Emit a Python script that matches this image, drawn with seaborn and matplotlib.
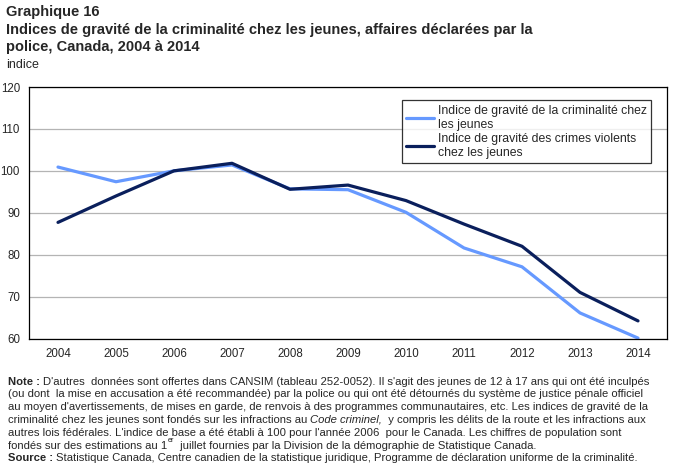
import numpy as np
import pandas as pd
import seaborn as sns
import matplotlib.pyplot as plt

years = ["2004", "2005", "2006", "2007", "2008", "2009", "2010", "2011", "2012", "2013", "2014"]
ygc_total = [100.9, 97.4, 100.0, 101.4, 95.7, 95.5, 90.1, 81.6, 77.1, 66.1, 60.1]
ygc_violent = [87.7, 94.0, 100.0, 101.8, 95.6, 96.6, 92.9, 87.3, 82.0, 71.0, 64.2]
series_names = ["Indice de gravité de la criminalité chez\nles jeunes",
                "Indice de gravité des crimes violents\nchez les jeunes"]
colors = ["#6699FF", "#0A1F5C"]

df = pd.DataFrame({
    "annee": years * 2,
    "indice": ygc_total + ygc_violent,
    "serie": [series_names[0]] * len(years) + [series_names[1]] * len(years),
})

sns.set_style("white")
plt.rcParams["font.family"] = ["Liberation Sans", "DejaVu Sans"]

fig = plt.figure(figsize=(6.75, 4.73), dpi=100)
ax = fig.add_axes([29 / 675, 1 - 338.5 / 473, 638 / 675, 251.5 / 473])

sns.lineplot(data=df, x="annee", y="indice", hue="serie", palette=colors,
             linewidth=2.3, ax=ax, sort=False)

ax.set_xlim(-0.5, len(years) - 0.5)
ax.set_ylim(60, 120)
ax.set_yticks(range(60, 121, 10))
ax.yaxis.grid(True, color="#B4B4B4", linewidth=0.9)
ax.set_axisbelow(True)
ax.set_xlabel("")
ax.set_ylabel("")

# ticks between categories
ax.set_xticks(np.arange(len(years)))
ax.set_xticklabels(years)
ax.set_xticks(np.arange(0.5, len(years) - 0.5), minor=True)
ax.tick_params(axis="x", which="major", length=0, labelsize=8.3, pad=7)
ax.tick_params(axis="x", which="minor", length=3.6, width=0.8, direction="in", color="black")
ax.tick_params(axis="y", length=0, labelsize=8.3, pad=6.5)

for side in ["left", "right", "bottom", "top"]:
    ax.spines[side].set_color("black")
    ax.spines[side].set_linewidth(0.9)

leg = ax.legend(loc="upper left", bbox_to_anchor=(402 / 675, 1 - 100.5 / 473),
                bbox_transform=fig.transFigure,
                frameon=True, fancybox=False, fontsize=8.8, handlelength=2.3,
                handletextpad=0.3, borderpad=0.35, labelspacing=0.2,
                borderaxespad=0)
leg.get_frame().set_edgecolor("black")
leg.get_frame().set_linewidth(0.9)
for line in leg.get_lines():
    line.set_linewidth(2.3)

# titles
fig.text(6 / 675, 1 - 12 / 473, "Graphique 16", fontsize=10.5, fontweight="bold", va="center")
fig.text(6 / 675, 1 - 30 / 473,
         "Indices de gravité de la criminalité chez les jeunes, affaires déclarées par la",
         fontsize=10.5, fontweight="bold", va="center")
fig.text(6 / 675, 1 - 47 / 473, "police, Canada, 2004 à 2014",
         fontsize=10.5, fontweight="bold", va="center")
fig.text(6 / 675, 1 - 65 / 473, "indice", fontsize=9, va="center")

# note
fs = 8.1
x0 = 8 / 675
y_start = 1 - 381.5 / 473
dy = 12.8 / 473

t = fig.text(x0, y_start, "Note : ", fontsize=fs, fontweight="bold", va="center")
ax.annotate("D'autres  données sont offertes dans CANSIM (tableau 252-0052). Il s'agit des jeunes de 12 à 17 ans qui ont été inculpés",
            xy=(1, 0.5), xycoords=t, va="center", fontsize=fs, annotation_clip=False)

plain_lines = {
    1: "(ou dont  la mise en accusation a été recommandée) par la police ou qui ont été détournés du système de justice pénale officiel",
    2: "au moyen d'avertissements, de mises en garde, de renvois à des programmes communautaires, etc. Les indices de gravité de la",
    4: "autres lois fédérales. L'indice de base a été établi à 100 pour l'année 2006  pour le Canada. Les chiffres de population sont",
}
for i, txt in plain_lines.items():
    fig.text(x0, y_start - i * dy, txt, fontsize=fs, va="center")

t4 = fig.text(x0, y_start - 3 * dy, "criminalité chez les jeunes sont fondés sur les infractions au ",
              fontsize=fs, va="center")
t4b = ax.annotate("Code criminel,", xy=(1, 0.5), xycoords=t4, va="center",
                  fontsize=fs, style="italic", annotation_clip=False)
ax.annotate("  y compris les délits de la route et les infractions aux", xy=(1, 0.5),
            xycoords=t4b, va="center", fontsize=fs, annotation_clip=False)

t6 = fig.text(x0, y_start - 5 * dy, "fondés sur des estimations au 1", fontsize=fs, va="center")
t6b = ax.annotate("er", xy=(1, 0.62), xycoords=t6, va="bottom", fontsize=fs * 0.65,
                  annotation_clip=False)
ax.annotate(" juillet fournies par la Division de la démographie de Statistique Canada.",
            xy=(1, 0.5), xycoords=t6, xytext=(7, 0), textcoords="offset points",
            va="center", fontsize=fs, annotation_clip=False)

ts = fig.text(x0, y_start - 6 * dy, "Source : ", fontsize=fs, fontweight="bold", va="center")
ax.annotate("Statistique Canada, Centre canadien de la statistique juridique, Programme de déclaration uniforme de la criminalité.",
            xy=(1, 0.5), xycoords=ts, va="center", fontsize=fs, annotation_clip=False)

fig.savefig("out.png", dpi=100)
